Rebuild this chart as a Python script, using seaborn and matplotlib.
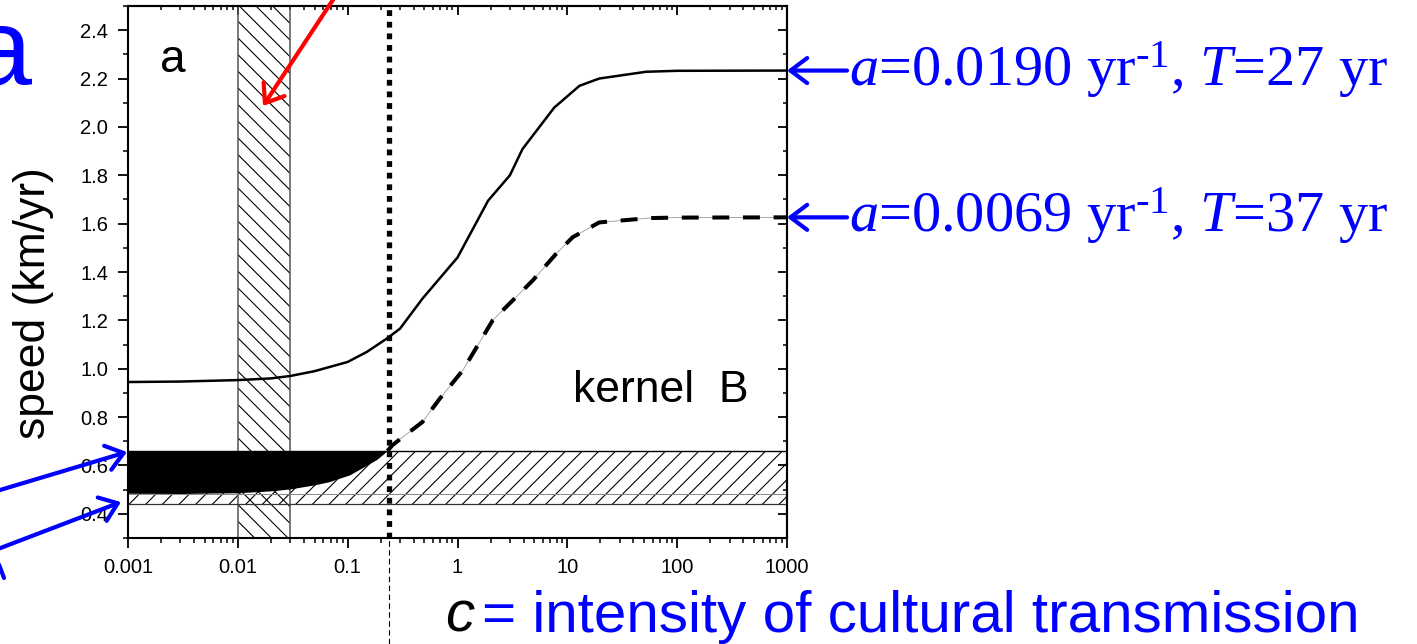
import matplotlib
matplotlib.use("Agg")
import matplotlib.pyplot as plt
from matplotlib.lines import Line2D
from matplotlib.ticker import (FixedLocator, FixedFormatter, MultipleLocator,
                               FormatStrFormatter, LogLocator, NullFormatter)
import seaborn as sns

# Front speed (km/yr) against intensity of cultural transmission c
c_fast = [0.001, 0.003, 0.01, 0.02, 0.03, 0.05, 0.1, 0.15, 0.226, 0.3, 0.48,
          1.0, 1.9, 3.0, 3.9, 7.6, 12.9, 19.5, 52, 100, 1000]
v_fast = [0.945, 0.947, 0.953, 0.960, 0.970, 0.990, 1.028, 1.070, 1.124, 1.166, 1.29,
          1.46, 1.695, 1.80, 1.908, 2.08, 2.17, 2.20, 2.228, 2.232, 2.233]
c_slow = [0.23, 0.257, 0.48, 0.686, 1.12, 2.09, 3.93, 4.84, 7.9, 11.2, 19.5, 55.6, 100, 1000]
v_slow = [0.66, 0.685, 0.78, 0.875, 0.994, 1.2, 1.324, 1.365, 1.475, 1.544, 1.605,
          1.623, 1.625, 1.626]

# Lower edge of the excluded (black) region below the observed band
c_gap = [0.001, 0.003, 0.006, 0.01, 0.02, 0.03, 0.05, 0.068, 0.104, 0.148, 0.184, 0.215, 0.226]
v_gap = [0.485, 0.484, 0.486, 0.487, 0.495, 0.503, 0.52, 0.533, 0.561, 0.60, 0.625, 0.65, 0.66]

band_v = [0.44, 0.66]      # observed speed range
band_inner = 0.48
genetic_c = [0.01, 0.03]   # range of c from genetic data
c_threshold = 0.24

x_ticks = [0.001, 0.01, 0.1, 1, 10, 100, 1000]
x_labels = ["0.001", "0.01", "0.1", "1", "10", "100", "1000"]

labels_right = [r"$a$=0.0190 yr$^{\text{-1}}$, $T$=27 yr",
                r"$a$=0.0069 yr$^{\text{-1}}$, $T$=37 yr"]

W, H = 1417, 644
BLUE = "#0000ff"

sns.set_theme(style="ticks")
plt.rcParams["font.family"] = ["Liberation Sans", "DejaVu Sans"]
plt.rcParams["text.color"] = "black"
plt.rcParams["axes.labelcolor"] = "black"
plt.rcParams["hatch.linewidth"] = 0.8
plt.rcParams["hatch.color"] = "black"
plt.rcParams["mathtext.fontset"] = "custom"
plt.rcParams["mathtext.rm"] = "Liberation Serif"
plt.rcParams["mathtext.it"] = "Liberation Serif:italic"
plt.rcParams["mathtext.bf"] = "Liberation Serif:bold"

fig = plt.figure(figsize=(W / 100, H / 100), dpi=100)
ax = fig.add_axes([128 / W, 106 / H, 659 / W, 532 / H])
ax.set_facecolor("white")
ax.set_xscale("log")
ax.set_xlim(1e-3, 1e3)
ax.set_ylim(0.3, 2.5)

# hatched ranges
ax.axvspan(genetic_c[0], genetic_c[1], facecolor="none", edgecolor="black",
           hatch="\\\\", lw=0, zorder=1)
for cx in genetic_c:
    ax.axvline(cx, color="#555555", lw=1.1, zorder=1.5)
ax.axhspan(band_v[0], band_v[1], facecolor="none", edgecolor="black",
           hatch="//", lw=0, zorder=1)
ax.axhline(band_v[1], color="black", lw=1.0, zorder=1.6)
ax.axhline(band_v[0], color="#333333", lw=0.9, zorder=1.6)
ax.axhline(band_inner, color="#888888", lw=0.7, zorder=1.6)
ax.fill_between(c_gap, v_gap, band_v[1], color="black", lw=0, zorder=2)

# speed curves
sns.lineplot(x=c_fast, y=v_fast, ax=ax, color="black", lw=1.8, sort=False,
             estimator=None, zorder=3)
sns.lineplot(x=c_slow, y=v_slow, ax=ax, color="#9a9a9a", lw=0.6, sort=False,
             estimator=None, zorder=3)
sns.lineplot(x=c_slow, y=v_slow, ax=ax, color="black", lw=2.9, sort=False,
             estimator=None, linestyle=(0, (4.2, 3.4)), zorder=3.1)

# threshold line
ax.axvline(c_threshold, color="black", lw=3.8, linestyle=(0, (1.1, 1.1)), zorder=4)
ax.axvline(c_threshold, ymin=-0.2, ymax=0, clip_on=False, color="black", lw=0.8,
           linestyle=(0, (5, 3)), zorder=4)

# axes and ticks
ax.xaxis.set_major_locator(FixedLocator(x_ticks))
ax.xaxis.set_major_formatter(FixedFormatter(x_labels))
ax.xaxis.set_minor_locator(LogLocator(base=10, subs=range(2, 10), numticks=20))
ax.xaxis.set_minor_formatter(NullFormatter())
ax.yaxis.set_major_locator(MultipleLocator(0.2))
ax.yaxis.set_major_formatter(FormatStrFormatter("%.1f"))
ax.yaxis.set_minor_locator(MultipleLocator(0.1))
ax.tick_params(which="major", direction="out", length=7.2, width=1.3,
               labelsize=14.5, pad=7, colors="black")
ax.tick_params(which="minor", direction="out", length=3.5, width=1.1, colors="black")
for s in ax.spines.values():
    s.set_linewidth(1.5)
    s.set_color("black")
    s.set_visible(True)

top = ax.secondary_xaxis("top")
top.xaxis.set_major_locator(FixedLocator(x_ticks))
top.xaxis.set_minor_locator(LogLocator(base=10, subs=range(2, 10), numticks=20))
top.tick_params(which="both", direction="in", labeltop=False, colors="black")
top.tick_params(which="major", length=6.5, width=1.3)
top.tick_params(which="minor", length=3.2, width=1.1)
top.spines["top"].set_linewidth(1.5)

right = ax.secondary_yaxis("right")
right.yaxis.set_major_locator(MultipleLocator(0.2))
right.yaxis.set_minor_locator(MultipleLocator(0.1))
right.tick_params(which="both", direction="in", labelright=False, colors="black")
right.tick_params(which="major", length=6.5, width=1.3)
right.tick_params(which="minor", length=3.2, width=1.1)
right.spines["right"].set_linewidth(1.5)

# text inside the panel
ax.text(0.0486, 0.876, "a", transform=ax.transAxes, fontsize=33, va="baseline",
        color="black")
ax.text(0.675, 0.2556, "kernel  B", transform=ax.transAxes, fontsize=32,
        va="baseline", color="black")

fig.text(34 / W, 1 - 303 / H, "speed (km/yr)", rotation=90, fontsize=32,
         ha="center", va="center", color="black")
fig.text(31 / W, 1 - 85 / H, "a", fontsize=79, color=BLUE, ha="right", va="baseline")
fig.text(445 / W, 12 / H, "c", fontsize=42, style="italic", color="black", va="baseline")
fig.text(482 / W, 12 / H, "= intensity of cultural transmission", fontsize=42,
         color=BLUE, va="baseline")

# curve labels on the right
arrow_kw = dict(arrowstyle="->,head_length=0.6,head_width=0.45", lw=3,
                shrinkA=0, shrinkB=0, mutation_scale=20)
for v_end, label in zip([v_fast[-1], v_slow[-1]], labels_right):
    ax.annotate("", xy=(x_ticks[-1], v_end), xytext=(60, 0), textcoords="offset pixels",
                arrowprops=dict(color=BLUE, **arrow_kw), annotation_clip=False)
    ax.annotate(label, xy=(x_ticks[-1], v_end), xytext=(62, -15),
                textcoords="offset pixels", fontsize=42, family="Liberation Serif",
                color=BLUE, ha="left", va="baseline", annotation_clip=False)

# pointer arrows
ax.annotate("", xy=(263, H - 106), xycoords="figure pixels", xytext=(346, H + 20),
            textcoords="figure pixels", annotation_clip=False,
            arrowprops=dict(color="#ff0000", **arrow_kw))
ax.annotate("", xy=(127, H - 452), xycoords="figure pixels", xytext=(-10, H - 493),
            textcoords="figure pixels", annotation_clip=False,
            arrowprops=dict(color=BLUE, **arrow_kw))
ax.annotate("", xy=(121, H - 502), xycoords="figure pixels", xytext=(-10, H - 552),
            textcoords="figure pixels", annotation_clip=False,
            arrowprops=dict(color=BLUE, **arrow_kw))
fig.add_artist(Line2D([-2 / W, 4 / W], [1 - 562 / H, 1 - 578 / H], color=BLUE, lw=3))

fig.savefig("out.png", dpi=100)
